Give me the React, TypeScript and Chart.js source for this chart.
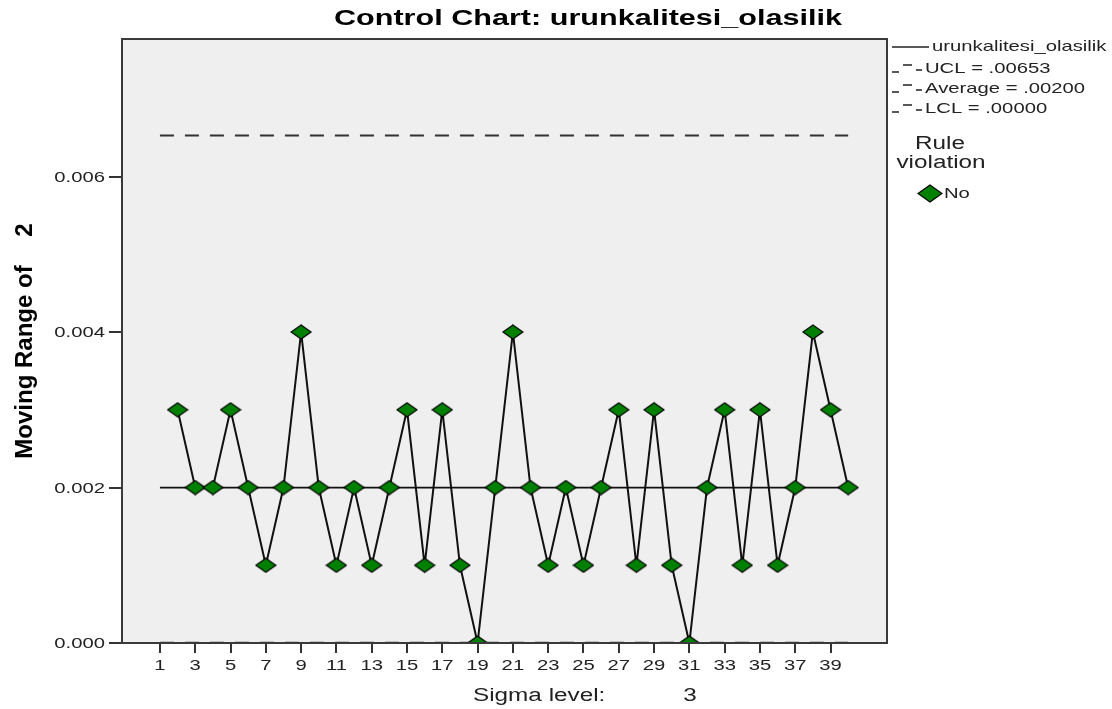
import React, { useEffect, useRef } from "react";
import { Chart, registerables } from "chart.js";

Chart.register(...registerables);

// ---- data ----
const samples = [2, 3, 4, 5, 6, 7, 8, 9, 10, 11, 12, 13, 14, 15, 16, 17, 18, 19, 20, 21, 22, 23, 24, 25, 26, 27, 28, 29, 30, 31, 32, 33, 34, 35, 36, 37, 38, 39, 40];
const movingRange = [0.003, 0.002, 0.002, 0.003, 0.002, 0.001, 0.002, 0.004, 0.002, 0.001, 0.002, 0.001, 0.002, 0.003, 0.001, 0.003, 0.001, 0.0, 0.002, 0.004, 0.002, 0.001, 0.002, 0.001, 0.002, 0.003, 0.001, 0.003, 0.001, 0.0, 0.002, 0.003, 0.001, 0.003, 0.001, 0.002, 0.004, 0.003, 0.002];
const xTickValues = [1, 3, 5, 7, 9, 11, 13, 15, 17, 19, 21, 23, 25, 27, 29, 31, 33, 35, 37, 39];
const yTickValues = [0, 0.002, 0.004, 0.006];
const limitRange = [1, 40];
const uclValue = 0.00653;
const averageValue = 0.002;
const lclValue = 0.0;
const titleText = "Control Chart: urunkalitesi_olasilik";
const yTitleMain = "Moving Range of";
const yTitleSpan = "2";
const xTitleMain = "Sigma level:";
const xTitleValue = "3";
const seriesLabel = "urunkalitesi_olasilik";
const uclLabel = "UCL = .00653";
const averageLabel = "Average = .00200";
const lclLabel = "LCL = .00000";
const ruleTitle = ["Rule", "violation"];
const ruleLabel = "No";

const FONT = '"Liberation Sans", Arial, sans-serif';
const GREEN = "#008000";
const SX = 1.35; // horizontal stretch of the reference text

function makeDiamond(w: number, h: number): HTMLCanvasElement {
  const c = document.createElement("canvas");
  c.width = w + 2;
  c.height = h + 2;
  const g = c.getContext("2d")!;
  const cx = (w + 2) / 2;
  const cy = (h + 2) / 2;
  g.beginPath();
  g.moveTo(1, cy);
  g.lineTo(cx, 1);
  g.lineTo(w + 1, cy);
  g.lineTo(cx, h + 1);
  g.closePath();
  g.fillStyle = GREEN;
  g.fill();
  g.lineWidth = 1.2;
  g.strokeStyle = "#000";
  g.stroke();
  return c;
}

export default function App() {
  const ref = useRef<HTMLCanvasElement | null>(null);

  useEffect(() => {
    document.body.style.margin = "0";
    const canvas = ref.current!;
    const diamond = makeDiamond(20, 14);
    const bigDiamond = makeDiamond(24, 17);

    const text = (
      ctx: CanvasRenderingContext2D,
      s: string,
      x: number,
      y: number,
      align: CanvasTextAlign,
      font: string,
      sx: number = SX
    ) => {
      ctx.save();
      ctx.translate(x, y);
      ctx.scale(sx, 1);
      ctx.font = font;
      ctx.textAlign = align;
      ctx.textBaseline = "middle";
      ctx.fillText(s, 0, 0);
      ctx.restore();
    };

    const decor = {
      id: "decor",
      beforeDraw(chart: any) {
        const { ctx, chartArea: a } = chart;
        ctx.save();
        ctx.fillStyle = "#ffffff";
        ctx.fillRect(0, 0, chart.width, chart.height);
        ctx.fillStyle = "#efefef";
        ctx.fillRect(a.left, a.top, a.right - a.left, a.bottom - a.top);
        ctx.restore();
      },
      afterDraw(chart: any) {
        const { ctx, chartArea: a } = chart;
        const xs = chart.scales.x;
        const ys = chart.scales.y;
        ctx.save();
        // frame
        ctx.strokeStyle = "#3a3a3a";
        ctx.lineWidth = 2;
        ctx.strokeRect(a.left, a.top, a.right - a.left, a.bottom - a.top);

        // title
        ctx.fillStyle = "#000";
        text(ctx, titleText, 588, 19, "center", `bold 22px ${FONT}`, 1.39);

        // tick labels
        ctx.fillStyle = "#222";
        yTickValues.forEach((v) => {
          text(ctx, v.toFixed(3), 105, ys.getPixelForValue(v) + 1, "right", `15px ${FONT}`);
        });
        xTickValues.forEach((v) => {
          text(ctx, String(v), xs.getPixelForValue(v), 666, "center", `15px ${FONT}`);
        });

        // y title
        ctx.fillStyle = "#000";
        ctx.save();
        ctx.translate(25, 0);
        ctx.rotate(-Math.PI / 2);
        ctx.font = `bold 24px ${FONT}`;
        ctx.textAlign = "center";
        ctx.textBaseline = "middle";
        ctx.fillText(yTitleMain, -362, 0);
        ctx.fillText(yTitleSpan, -230, 0);
        ctx.restore();

        // x title
        ctx.fillStyle = "#222";
        text(ctx, xTitleMain, 473, 696, "left", `18px ${FONT}`);
        text(ctx, xTitleValue, 690, 696, "center", `18px ${FONT}`);

        // legend
        ctx.strokeStyle = "#222";
        ctx.lineWidth = 1.5;
        const lx = 892;
        ctx.beginPath();
        ctx.moveTo(lx, 47);
        ctx.lineTo(lx + 37, 47);
        ctx.stroke();
        text(ctx, seriesLabel, lx + 40, 47, "left", `15px ${FONT}`);
        const dashRow = (y: number, label: string) => {
          ctx.beginPath();
          ctx.moveTo(lx, y + 3);
          ctx.lineTo(lx + 7, y + 3);
          ctx.moveTo(lx + 11, y - 4);
          ctx.lineTo(lx + 20, y - 4);
          ctx.moveTo(lx + 24, y + 1);
          ctx.lineTo(lx + 30, y + 1);
          ctx.stroke();
          text(ctx, label, lx + 33, y, "left", `15px ${FONT}`);
        };
        dashRow(69, uclLabel);
        dashRow(89, averageLabel);
        dashRow(109, lclLabel);

        text(ctx, ruleTitle[0], 940, 144, "center", `18px ${FONT}`);
        text(ctx, ruleTitle[1], 941, 163, "center", `18px ${FONT}`);
        ctx.drawImage(bigDiamond, 917, 184);
        text(ctx, ruleLabel, 944, 194, "left", `15px ${FONT}`);
        ctx.restore();
      },
    };

    const chart = new Chart(canvas, {
      type: "line",
      data: {
        datasets: [
          {
            label: seriesLabel,
            data: samples.map((s, i) => ({ x: s, y: movingRange[i] })),
            borderColor: "#111",
            borderWidth: 2,
            pointStyle: diamond as any,
            pointRadius: 8,
            tension: 0,
          },
          {
            label: "Average",
            data: limitRange.map((x) => ({ x, y: averageValue })),
            borderColor: "#111",
            borderWidth: 1.8,
            pointRadius: 0,
          },
          {
            label: "UCL",
            data: limitRange.map((x) => ({ x, y: uclValue })),
            borderColor: "#333",
            borderWidth: 2,
            borderDash: [14, 11],
            pointRadius: 0,
          },
          {
            label: "LCL",
            data: limitRange.map((x) => ({ x, y: lclValue })),
            borderColor: "#333",
            borderWidth: 2.5,
            borderDash: [14, 11],
            pointRadius: 0,
          },
        ],
      },
      options: {
        responsive: false,
        animation: false,
        devicePixelRatio: 1,
        layout: { padding: { left: 0, top: 39, right: 225, bottom: 0 } },
        plugins: {
          legend: { display: false },
          tooltip: { enabled: false },
          title: { display: false },
        },
        scales: {
          x: {
            type: "linear",
            min: -1.15,
            max: 42.2,
            afterBuildTicks: (scale: any) => {
              scale.ticks = xTickValues.map((v) => ({ value: v }));
            },
            afterFit: (scale: any) => {
              scale.height = 66;
            },
            ticks: { display: false, autoSkip: false, maxRotation: 0 },
            grid: {
              drawOnChartArea: false,
              drawTicks: true,
              tickLength: 10,
              color: "#333",
              lineWidth: 2,
            },
            border: { display: false },
          },
          y: {
            type: "linear",
            min: 0,
            max: 0.00777,
            afterBuildTicks: (scale: any) => {
              scale.ticks = yTickValues.map((v) => ({ value: v }));
            },
            afterFit: (scale: any) => {
              scale.width = 122;
            },
            ticks: { display: false },
            grid: {
              drawOnChartArea: false,
              drawTicks: true,
              tickLength: 13,
              color: "#333",
              lineWidth: 2,
            },
            border: { display: false },
          },
        },
      },
      plugins: [decor],
    });
    return () => chart.destroy();
  }, []);

  return (
    <div style={{ position: "absolute", left: 0, top: 0, width: 1112, height: 709 }}>
      <canvas ref={ref} width={1112} height={709} />
    </div>
  );
}
